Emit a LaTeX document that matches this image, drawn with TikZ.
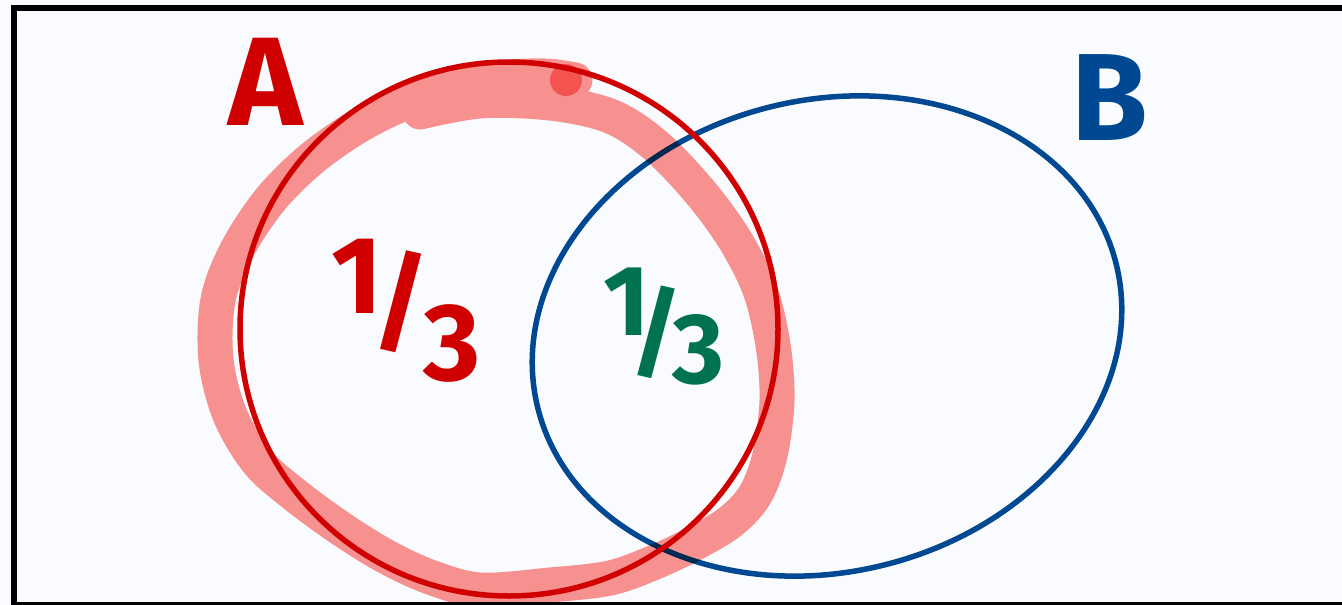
\documentclass[tikz,border=0pt]{standalone}
\usepackage{fontspec}
\newfontfamily\handfont{Fira Sans}
\definecolor{paper}{RGB}{249,251,254}
\definecolor{penred}{RGB}{208,0,0}
\definecolor{penblue}{RGB}{0,72,145}
\definecolor{pengreen}{RGB}{0,114,82}
\definecolor{marker}{RGB}{252,148,144}
\begin{document}
\begin{tikzpicture}[x=1pt,y=-1pt,
  setline/.style={line width=5.5pt},
  highlighter/.style={draw=marker, line width=35pt, line cap=round,
    line join=round, blend mode=multiply},
  handlabel/.style={inner sep=0pt, outer sep=0pt}]
\useasboundingbox (0,0) rectangle (1342,605);
\fill[paper] (0,0) rectangle (1342,605);

% frame of the page
\draw[line width=6pt] (14,605) -- (14,8) -- (1342,8);
\draw[line width=6pt] (14,605) -- (1342,605);

% set B
\draw[penblue, setline, rotate around={14:(827,336)}]
  (827,336) ellipse [x radius=298, y radius=236];

% highlighter loop around set A
\draw[highlighter] plot[smooth, tension=0.55] coordinates {
  (420,112) (480,101) (550,103) (610,116) (655,145) (700,192) (735,240)
  (760,290) (773,345) (777,400) (770,455) (755,495) (730,522) (695,543)
  (655,562) (610,578) (550,585) (480,590) (430,577) (385,556) (340,528)
  (295,495) (258,462) (230,415) (216,360) (218,300) (237,250) (270,200)
  (310,160) (355,128) (400,105) (450,88) (500,78) (545,76) (575,80)};
\fill[marker, blend mode=multiply] (566,80) circle [radius=16];

% set A
\draw[penred, setline] (509,329) ellipse [x radius=269, y radius=267];

% labels
\node[handlabel, text=penred, font=\handfont\bfseries\fontsize{126}{126}\selectfont]
  (labelA) at (266,82) {A};
\node[handlabel, text=penblue, font=\handfont\bfseries\fontsize{124}{124}\selectfont]
  (labelB) at (1110,98) {B};
\node[handlabel, anchor=base west, text=penred,
  font=\handfont\bfseries\fontsize{110}{110}\selectfont]
  (onlyA) at (331,380) {\raisebox{67pt}{1}\kern-10pt\raisebox{40pt}{/}\kern-6pt 3};
\node[handlabel, anchor=base west, text=pengreen,
  font=\handfont\bfseries\fontsize{100}{100}\selectfont]
  (both) at (603,383) {\raisebox{48pt}{1}\kern-19pt\raisebox{16pt}{/}\kern-10pt 3};
\end{tikzpicture}
\end{document}
